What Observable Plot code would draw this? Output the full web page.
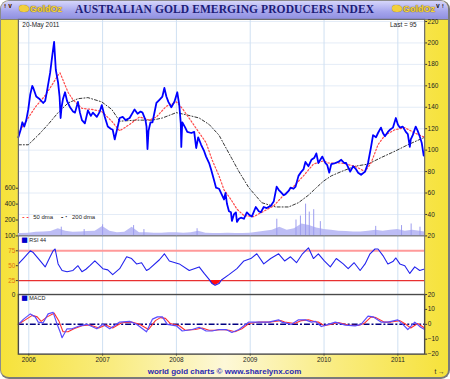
<!DOCTYPE html>
<html><head><meta charset="utf-8">
<script src="https://cdn.jsdelivr.net/npm/d3@7"></script>
<script src="https://cdn.jsdelivr.net/npm/@observablehq/plot@0.6"></script>
<style>
html,body{margin:0;padding:0;background:#fff;width:450px;height:379px;overflow:hidden;}
#wrap{position:relative;box-sizing:border-box;width:450px;height:379px;overflow:hidden;border-radius:9px;
 border:1px solid #8c8c8c;border-right:2px solid #7a7a7a;border-bottom:2px solid #7a7a7a;
 background:linear-gradient(to right,#f6e23a 0%,#f9ec80 25%,#fdf8d8 50%,#f9ec80 75%,#f6e23a 100%);}
#wrap svg{position:absolute;left:-1px;top:-1px;}
#titlebar{position:absolute;left:0;top:0;right:0;height:18px;
 background:linear-gradient(#d6d6fb,#a4a4ec 60%,#9090e0);border-bottom:1px solid #8a8460;}
#title{position:absolute;left:0;width:100%;top:2px;text-align:center;font-family:"Liberation Serif",serif;
 font-weight:bold;font-size:11.5px;color:#1c1c78;letter-spacing:0.1px;}
.logo{position:absolute;top:3px;font-family:"Liberation Sans",Arial,sans-serif;font-weight:bold;font-size:9px;
 color:#f4d448;text-shadow:0 0 1px #7a6000,0 0 1px #7a6000;}
.blob{position:absolute;top:4px;width:10px;height:7px;background:#f2cf3c;border-radius:40% 60% 50% 50%;box-shadow:0 0 1px #7a6000;}
#footer{position:absolute;left:0;width:100%;top:366px;text-align:center;font-family:"Liberation Sans",Arial,sans-serif;
 font-weight:bold;font-size:8px;color:#2a2ab4;}
</style></head><body>
<div id="wrap">
 <div id="titlebar">
  <div class="blob" style="left:18px"></div><span class="logo" style="left:29px">GoldOz</span>
  <div id="title">AUSTRALIAN GOLD EMERGING PRODUCERS INDEX</div>
  <div class="blob" style="left:391px"></div><span class="logo" style="left:402px">GoldOz</span>
 </div>
 <div id="footer">world gold charts © www.sharelynx.com</div>
</div>
<script>
// ---- data (decimal years) ----
const years = [2006, 2007, 2008, 2009, 2010, 2011];
const priceTicks = [20, 40, 60, 80, 100, 120, 140, 160, 180, 200, 220];
const volTicks = [200, 400, 600];
const rsiTicks = [25, 50, 75];
const macdTicks = [-20, -10, 0, 10, 20];

const priceT = [2005.859,2005.886,2005.913,2005.939,2005.966,2005.993,2006.020,2006.047,2006.061,2006.101,2006.141,2006.195,2006.222,2006.249,2006.289,2006.316,2006.343,2006.366,2006.397,2006.417,2006.431,2006.444,2006.464,2006.491,2006.518,2006.559,2006.599,2006.626,2006.666,2006.693,2006.720,2006.760,2006.801,2006.841,2006.868,2006.922,2006.962,2006.989,2007.030,2007.070,2007.110,2007.137,2007.164,2007.205,2007.231,2007.272,2007.312,2007.366,2007.433,2007.474,2007.514,2007.541,2007.581,2007.595,2007.608,2007.622,2007.649,2007.676,2007.729,2007.770,2007.810,2007.837,2007.864,2007.891,2007.931,2007.972,2008.012,2008.039,2008.059,2008.066,2008.079,2008.120,2008.147,2008.201,2008.241,2008.268,2008.295,2008.335,2008.376,2008.402,2008.443,2008.470,2008.510,2008.537,2008.577,2008.618,2008.645,2008.665,2008.685,2008.712,2008.739,2008.752,2008.779,2008.806,2008.820,2008.847,2008.874,2008.914,2008.954,2008.981,2009.022,2009.075,2009.116,2009.143,2009.183,2009.223,2009.277,2009.318,2009.358,2009.385,2009.412,2009.452,2009.479,2009.520,2009.546,2009.587,2009.614,2009.654,2009.694,2009.721,2009.748,2009.789,2009.829,2009.869,2009.896,2009.923,2009.950,2009.977,2010.018,2010.044,2010.071,2010.098,2010.152,2010.193,2010.233,2010.273,2010.300,2010.354,2010.394,2010.435,2010.462,2010.502,2010.556,2010.596,2010.637,2010.664,2010.704,2010.731,2010.771,2010.798,2010.825,2010.865,2010.892,2010.933,2010.973,2011.000,2011.027,2011.067,2011.108,2011.135,2011.162,2011.175,2011.202,2011.242,2011.269,2011.296,2011.323,2011.350];
const priceV = [112,118,126,122,128,138,152,160,158,150,148,144,146,156,172,187,201,175,163,150,130,140,148,154,146,140,136,135,145,135,128,125,137,132,135,131,136,142,131,122,120,119,110,122,130,131,128,130,138,134,136,135,128,122,101,118,126,126,144,147,150,158,150,145,140,145,154,142,125,103,126,121,117,116,117,102,112,105,99,94,88,82,72,65,64,58,54,60,50,43,42,34,40,42,33,36,37,36,42,40,38,47,43,42,47,46,48,52,66,63,61,58,59,62,65,64,66,76,80,82,89,85,91,93,97,88,91,94,88,86,79,87,88,89,91,88,88,80,85,82,79,77,80,88,103,114,112,116,121,116,113,117,119,121,130,124,121,122,117,115,103,110,114,122,118,113,107,95];

const dma50T = [2005.859,2006.087,2006.222,2006.316,2006.397,2006.424,2006.532,2006.599,2006.720,2006.855,2006.989,2007.124,2007.231,2007.366,2007.501,2007.636,2007.729,2007.864,2007.999,2008.079,2008.201,2008.281,2008.402,2008.483,2008.577,2008.645,2008.739,2008.820,2008.914,2009.048,2009.183,2009.318,2009.452,2009.587,2009.721,2009.856,2009.990,2010.058,2010.233,2010.421,2010.556,2010.637,2010.731,2010.825,2010.960,2011.094,2011.229,2011.363];
const dma50V = [116,140,151,161,170,172,154,147,139,138,136,127,118,124,131,128,131,141,145,139,127,119,107,91,76,63,54,45,39,38,43,48,58,66,76,87,90,88,88,85,80,88,105,114,119,121,116,112];

const dma200T = [2005.859,2005.993,2006.128,2006.262,2006.397,2006.532,2006.666,2006.801,2006.989,2007.124,2007.231,2007.460,2007.676,2007.810,2007.999,2008.133,2008.308,2008.443,2008.577,2008.672,2008.752,2008.847,2008.981,2009.156,2009.345,2009.520,2009.654,2009.789,2009.896,2009.991,2010.098,2010.233,2010.421,2010.596,2010.771,2010.960,2011.135,2011.363];
const dma200V = [105,105,114,124,135,144,148,149,145,138,127,128,128,130,135,133,130,124,114,102,92,80,65,51,47,47,51,58,65,71,76,80,85,87,93,99,105,112];

const volT = [2005.859,2005.9,2006.0,2006.1,2006.2,2006.3,2006.4,2006.5,2006.6,2006.7,2006.8,2006.9,2007.0,2007.1,2007.2,2007.3,2007.4,2007.5,2007.6,2007.7,2007.8,2007.9,2008.0,2008.1,2008.2,2008.3,2008.4,2008.5,2008.6,2008.7,2008.8,2008.9,2009.0,2009.1,2009.2,2009.3,2009.4,2009.5,2009.6,2009.7,2009.8,2009.9,2010.0,2010.1,2010.2,2010.3,2010.4,2010.5,2010.6,2010.7,2010.8,2010.9,2011.0,2011.1,2011.2,2011.3,2011.363];
const volV = [30,30,35,45,50,55,90,60,45,50,55,60,120,60,40,45,110,40,40,35,35,40,40,35,40,60,35,30,30,35,30,30,35,45,60,70,110,70,90,150,130,100,80,70,60,55,50,50,60,70,60,70,80,60,70,60,50];
const spikeT = [2006.44,2006.75,2007.0,2007.42,2007.56,2008.28,2009.36,2009.62,2009.68,2009.75,2009.80,2009.86,2009.95,2010.70,2011.05,2011.18,2011.30];
const spikeV = [110,80,140,130,80,90,210,200,250,400,300,330,180,120,130,150,110];

const rsiT = [2005.859,2005.926,2006.020,2006.061,2006.155,2006.222,2006.289,2006.330,2006.357,2006.397,2006.451,2006.518,2006.599,2006.666,2006.720,2006.774,2006.828,2006.895,2006.962,2007.003,2007.070,2007.137,2007.231,2007.326,2007.393,2007.460,2007.528,2007.595,2007.636,2007.770,2007.837,2007.904,2008.039,2008.174,2008.308,2008.376,2008.443,2008.483,2008.524,2008.577,2008.610,2008.712,2008.820,2008.914,2009.008,2009.089,2009.183,2009.277,2009.385,2009.466,2009.546,2009.627,2009.708,2009.789,2009.856,2009.923,2010.004,2010.085,2010.166,2010.260,2010.327,2010.408,2010.489,2010.556,2010.623,2010.690,2010.731,2010.798,2010.865,2010.933,2010.973,2011.027,2011.094,2011.162,2011.229,2011.296,2011.350];
const rsiV = [53,62,75,72,58,48,65,75,78,53,42,40,42,50,40,44,50,58,50,45,43,35,45,65,62,53,55,42,45,60,70,58,53,42,48,37,27,20,17,20,26,35,45,58,62,70,53,62,70,58,65,55,70,80,62,70,58,48,62,53,45,55,42,53,70,78,78,67,53,57,63,53,50,37,48,42,44];

const macdT = [2005.859,2005.926,2006.020,2006.087,2006.128,2006.195,2006.262,2006.330,2006.384,2006.424,2006.451,2006.518,2006.585,2006.693,2006.787,2006.922,2007.003,2007.097,2007.231,2007.366,2007.460,2007.595,2007.676,2007.743,2007.810,2007.877,2007.999,2008.079,2008.214,2008.308,2008.402,2008.483,2008.577,2008.672,2008.752,2008.847,2008.941,2008.981,2009.075,2009.156,2009.250,2009.385,2009.425,2009.560,2009.654,2009.748,2009.829,2009.883,2009.963,2010.058,2010.152,2010.287,2010.421,2010.502,2010.596,2010.664,2010.771,2010.865,2011.000,2011.067,2011.135,2011.229,2011.309,2011.363];
const macdV = [0,3.3,7,5,1.5,1,7,8,0,-5,-9,-3,-3,-1,0,-3,0,-3,1.5,2,0,-5,3.5,5,5,0,-1,-4.5,-3.5,-2,-4.5,-4.5,-3.5,-3.5,-5.5,-3.5,0,1.5,1.5,1.5,1.5,3,1.5,0,3,3,1.5,2,-1.5,0,1.5,-0.5,-1,0,5.5,5,1.5,1.5,3,0,-3.5,1.5,-2,-3.5];
const signalT = [2005.859,2005.953,2006.047,2006.114,2006.168,2006.249,2006.343,2006.410,2006.464,2006.532,2006.612,2006.720,2006.828,2006.949,2007.043,2007.137,2007.258,2007.393,2007.501,2007.622,2007.716,2007.783,2007.851,2007.918,2008.039,2008.120,2008.254,2008.349,2008.443,2008.524,2008.618,2008.712,2008.793,2008.887,2008.981,2009.116,2009.277,2009.412,2009.466,2009.600,2009.694,2009.789,2009.869,2009.923,2010.004,2010.098,2010.193,2010.327,2010.462,2010.542,2010.637,2010.704,2010.812,2010.906,2011.027,2011.108,2011.175,2011.269,2011.363];
const signalV = [0,3,6,5,2,5,7.5,2,-5,-5,-3,-1,-0.5,-2.5,-0.5,-2.5,1,1.5,0,-3.5,2.5,4.5,4,0.5,-1,-4,-3.5,-2.5,-4,-4,-3.5,-4,-5,-3,0.5,1.5,1.5,2.5,1.5,0.5,2.5,3,1.8,1.5,-1,0,1.2,-0.5,-0.8,0.5,5,4.5,1.5,1.5,2.5,0,-2.5,0.5,-2.5];

const zip = (t, v) => t.map((d, i) => ({t: d, v: v[i]}));
const price = zip(priceT, priceV), dma50 = zip(dma50T, dma50V), dma200 = zip(dma200T, dma200V);
const vol = zip(volT, volV), spikes = zip(spikeT, spikeV);
const rsi = zip(rsiT, rsiV), macd = zip(macdT, macdV), signal = zip(signalT, signalV);

const FONT = "'Liberation Sans',Arial,sans-serif";
const common = {
  width: 450, marginLeft: 18, marginRight: 23,
  x: {domain: [2005.859, 2011.363], axis: null},
  style: `background:transparent;overflow:visible;font-family:${FONT};font-size:6.5px;color:#222;`
};
const wrap = document.getElementById("wrap");
const gridX = Plot.gridX(years, {stroke: "#cfe0f2", strokeOpacity: 1});

// price panel
wrap.appendChild(Plot.plot({
  ...common, height: 238, marginTop: 19, marginBottom: 1,
  y: {domain: [20, 222], axis: null},
  marks: [
    Plot.frame({fill: "white"}),
    Plot.gridY(priceTicks, {stroke: "#e4ecf7", strokeOpacity: 1}),
    gridX,
    Plot.line(dma200, {x: "t", y: "v", stroke: "#333", strokeWidth: 1, strokeDasharray: "3,2,1,2"}),
    Plot.line(dma50, {x: "t", y: "v", stroke: "#ff4a4a", strokeWidth: 1.2, strokeDasharray: "1.5,2"}),
    Plot.line(price, {x: "t", y: "v", stroke: "#0000ff", strokeWidth: 1.8}),
    Plot.axisY(priceTicks, {anchor: "right", tickSize: 2, tickPadding: 1, stroke: "#333"}),
    Plot.text(["20-May 2011"], {frameAnchor: "top-left", dx: 4, dy: 3, fontSize: 6.5}),
    Plot.text(["Last = 95"], {frameAnchor: "top-right", dx: -8, dy: 3, fontSize: 6.5}),
    Plot.text(["- -"], {frameAnchor: "bottom-left", lineAnchor: "middle", dx: 4, dy: -19, fill: "#ff3030", fontSize: 7, fontWeight: "bold"}),
    Plot.text(["50 dma"], {frameAnchor: "bottom-left", lineAnchor: "middle", dx: 15, dy: -19, fontSize: 6}),
    Plot.text(["- ·"], {frameAnchor: "bottom-left", lineAnchor: "middle", dx: 43, dy: -19, fill: "#222", fontSize: 7, fontWeight: "bold"}),
    Plot.text(["200 dma"], {frameAnchor: "bottom-left", lineAnchor: "middle", dx: 54, dy: -19, fontSize: 6}),
    Plot.frame({stroke: "#6a6a6a", strokeWidth: 1.2})
  ]
}));

// volume overlay
wrap.appendChild(Plot.plot({
  ...common, height: 238, marginTop: 189, marginBottom: 1,
  y: {domain: [0, 600], axis: null},
  marks: [
    Plot.areaY(vol, {x: "t", y: "v", fill: "#b6b6f4", fillOpacity: 0.9}),
    Plot.ruleX(spikes, {x: "t", y1: 0, y2: "v", stroke: "#9c9cee", strokeWidth: 1}),
    Plot.axisY(volTicks, {anchor: "left", tickSize: 2, tickPadding: 1, stroke: "#333"})
  ]
}));

// RSI panel
wrap.appendChild(Plot.plot({
  ...common, height: 298, marginTop: 237, marginBottom: 1,
  y: {domain: [0, 100], axis: null},
  marks: [
    Plot.frame({fill: "white"}),
    gridX,
    Plot.ruleY([75], {stroke: "#ff9a9a", strokeWidth: 2}),
    Plot.ruleY([25], {stroke: "#e83030", strokeWidth: 1.2}),
    Plot.areaY(rsi, {x: "t", y1: 25, y2: d => Math.min(d.v, 25), fill: "#ff1010"}),
    Plot.line(rsi, {x: "t", y: "v", stroke: "#2222ee", strokeWidth: 1.1}),
    Plot.axisY(rsiTicks, {anchor: "left", tickSize: 2, tickPadding: 1, stroke: "#333", fill: "#e07010"}),
    Plot.axisY([100], {anchor: "left", tickSize: 2, tickPadding: 1, stroke: "#333"}),
    Plot.text(["■"], {frameAnchor: "top-left", dx: 3, dy: 1, fill: "#0000cc", fontSize: 7, fontFamily: "DejaVu Sans"}),
    Plot.text(["RSI 44"], {frameAnchor: "top-left", dx: 11, dy: 2, fontSize: 5.5}),
    Plot.frame({stroke: "#6a6a6a", strokeWidth: 1})
  ]
}));

// MACD panel
wrap.appendChild(Plot.plot({
  ...common, height: 379, marginTop: 296, marginBottom: 23,
  y: {domain: [-20, 20], axis: null},
  marks: [
    Plot.frame({fill: "white"}),
    gridX,
    Plot.ruleY([0], {stroke: "#000080", strokeWidth: 1.6, strokeDasharray: "6,2,2,2"}),
    Plot.line(signal, {x: "t", y: "v", stroke: "#ff3030", strokeWidth: 1.1}),
    Plot.line(macd, {x: "t", y: "v", stroke: "#5a4cff", strokeWidth: 1.2}),
    Plot.axisY(macdTicks, {anchor: "right", tickSize: 2, tickPadding: 1, stroke: "#333"}),
    Plot.text(["0"], {frameAnchor: "top-left", textAnchor: "end", lineAnchor: "middle", dx: -3, fontSize: 6.5}),
    Plot.axisX(years, {anchor: "bottom", tickSize: 2, tickPadding: 1, tickFormat: d => String(d), stroke: "#333", fontSize: 6.5}),
    Plot.text(["■"], {frameAnchor: "top-left", dx: 3, dy: 1, fill: "#0000cc", fontSize: 7, fontFamily: "DejaVu Sans"}),
    Plot.text(["MACD"], {frameAnchor: "top-left", dx: 11, dy: 2, fontSize: 5.5}),
    Plot.frame({stroke: "#4a4a4a", strokeWidth: 1.4})
  ]
}));
</script>
</body></html>
